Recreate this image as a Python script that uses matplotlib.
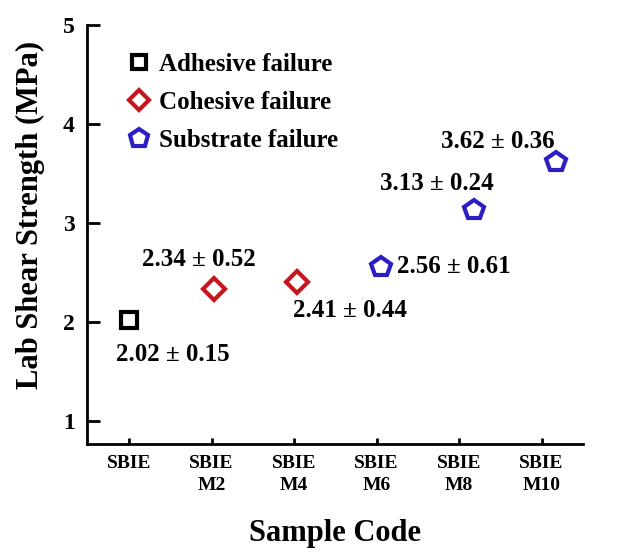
import matplotlib
matplotlib.use('Agg')
from matplotlib import pyplot as plt
from matplotlib.lines import Line2D

# lap shear strength per sample with failure mode
samples = ['SBIE', 'SBIE\nM2', 'SBIE\nM4', 'SBIE\nM6', 'SBIE\nM8', 'SBIE\nM10']
x_pos = [0, 1.03, 2.04, 3.05, 4.18, 5.18]
strength = [2.02, 2.34, 2.41, 2.56, 3.13, 3.62]
std_dev = [0.15, 0.52, 0.44, 0.61, 0.24, 0.36]
failure = ['Adhesive', 'Cohesive', 'Cohesive', 'Substrate', 'Substrate', 'Substrate']

styles = {
    'Adhesive': dict(marker='s', color='black', ms=11),
    'Cohesive': dict(marker='D', color='#c4161c', ms=11),
    'Substrate': dict(marker='p', color='#2b1fc4', ms=15),
}

# label offsets (in data units) for each value text
label_dx = [0.53, -0.19, 0.64, 0.2, -0.45, -0.71]
label_dy = [-0.35, 0.29, -0.29, 0.0, 0.27, 0.2]
label_ha = ['center', 'center', 'center', 'left', 'center', 'center']

plt.rcParams['font.family'] = 'Liberation Serif'
plt.rcParams['font.weight'] = 'bold'

fig = plt.figure(figsize=(6.19, 5.54), dpi=100)
ax = fig.add_axes([0.1406, 0.1986, 0.801, 0.756])

for i in range(len(strength)):
    st = styles[failure[i]]
    ax.plot(x_pos[i], strength[i], linestyle='none', marker=st['marker'],
            markersize=st['ms'], markerfacecolor='white',
            markeredgecolor=st['color'], markeredgewidth=3)
    txt = '%.2f \u00b1 %.2f' % (strength[i], std_dev[i])
    ax.text(x_pos[i] + label_dx[i], strength[i] + label_dy[i], txt,
            ha=label_ha[i], va='center', fontsize=18, fontweight='bold')

ax.set_xlim(-0.51, 5.5)
ax.set_ylim(0.77, 5)
ax.set_xticks(range(len(samples)))
ax.set_xticklabels(samples, fontsize=14, fontweight='bold', linespacing=1.4)
ax.set_yticks([1, 2, 3, 4, 5])
ax.set_yticklabels(['1', '2', '3', '4', '5'], fontsize=17, fontweight='bold')
ax.tick_params(axis='y', direction='in', length=9, width=2, pad=9)
ax.tick_params(axis='x', direction='in', length=4, width=2, pad=8)

for side in ['top', 'right']:
    ax.spines[side].set_visible(False)
for side in ['left', 'bottom']:
    ax.spines[side].set_linewidth(2)

ax.set_xlabel('Sample Code', fontsize=22, fontweight='bold', labelpad=18)
ax.set_ylabel('Lab Shear Strength (MPa)', fontsize=22, fontweight='bold', va='center')
ax.yaxis.set_label_coords(-0.115, 0.547)

handles = []
for name in ['Adhesive', 'Cohesive', 'Substrate']:
    st = styles[name]
    handles.append(Line2D([], [], linestyle='none', marker=st['marker'],
                          markersize=st['ms'] * 0.9, markerfacecolor='white',
                          markeredgecolor=st['color'], markeredgewidth=3,
                          label=name + ' failure'))
ax.legend(handles=handles, loc='upper left', bbox_to_anchor=(0.054, 0.963),
          frameon=False, borderpad=0, handletextpad=0.3, labelspacing=0.6,
          handlelength=1.0, prop={'weight': 'bold', 'size': 18})

fig.savefig('out.png', dpi=100)
